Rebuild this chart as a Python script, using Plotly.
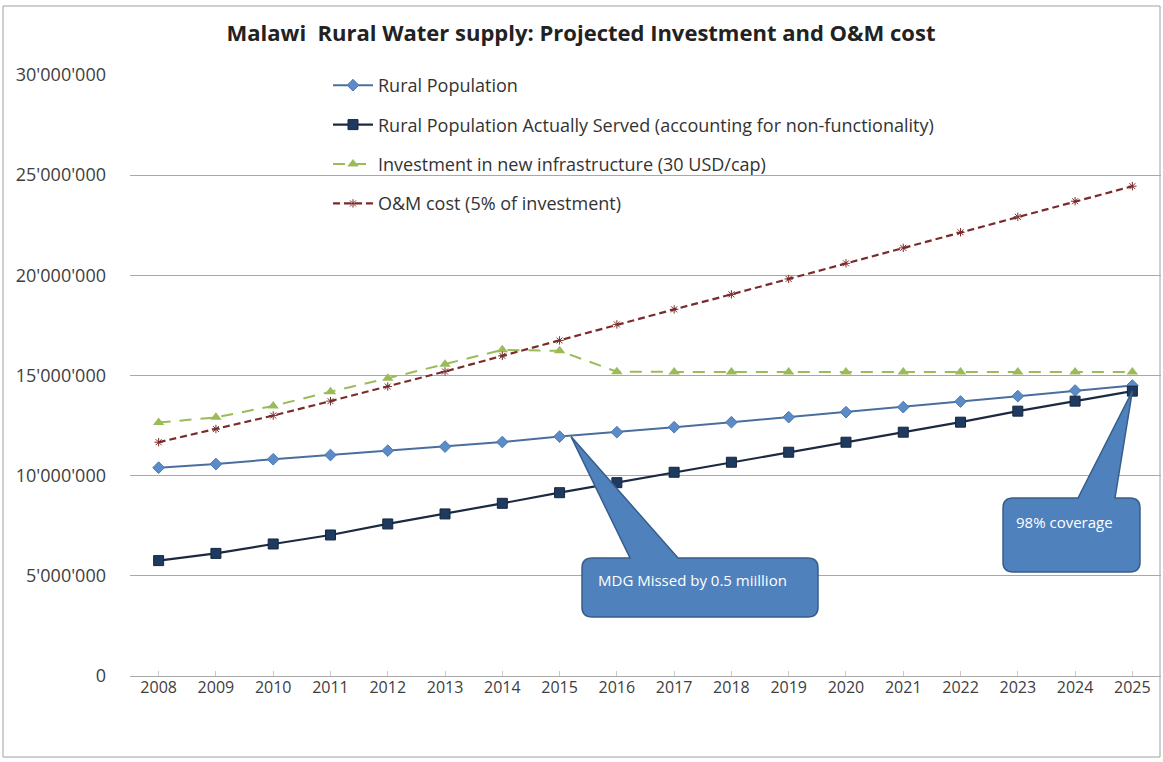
import plotly.graph_objects as go

years = list(range(2008, 2026))
rural_population = [10.40e6, 10.58e6, 10.82e6, 11.03e6, 11.25e6, 11.45e6, 11.68e6, 11.95e6, 12.17e6,
                    12.42e6, 12.67e6, 12.92e6, 13.17e6, 13.42e6, 13.70e6, 13.97e6, 14.25e6, 14.50e6]
served = [5.76e6, 6.12e6, 6.59e6, 7.04e6, 7.59e6, 8.09e6, 8.62e6, 9.15e6, 9.65e6,
          10.17e6, 10.67e6, 11.17e6, 11.67e6, 12.17e6, 12.67e6, 13.22e6, 13.72e6, 14.22e6]
investment = [12.65e6, 12.91e6, 13.48e6, 14.19e6, 14.86e6, 15.56e6, 16.28e6, 16.23e6, 15.19e6,
              15.18e6, 15.18e6, 15.18e6, 15.18e6, 15.18e6, 15.18e6, 15.18e6, 15.18e6, 15.18e6]
om_cost = [11.67e6, 12.33e6, 13.0e6, 13.72e6, 14.45e6, 15.2e6, 15.98e6, 16.75e6, 17.55e6,
           18.3e6, 19.05e6, 19.82e6, 20.6e6, 21.37e6, 22.15e6, 22.92e6, 23.7e6, 24.45e6]
y_ticks = [0, 5e6, 10e6, 15e6, 20e6, 25e6, 30e6]

names = ["Rural Population",
         "Rural Population Actually Served (accounting for non-functionality)",
         "Investment in new infrastructure (30 USD/cap)",
         "O&M cost (5% of investment)"]

W, H = 1163, 762
L, R, T, B = 130, 2, 75, 86
pw, ph = W - L - R, H - T - B
XMIN, XMAX = 2007.5, 2025.5
YMAX = 30e6


def px2x(px):
    return XMIN + (px - L) / pw * (XMAX - XMIN)


def py2y(py):
    return (T + ph - py) / ph * YMAX


fig = go.Figure()
fig.add_trace(go.Scatter(x=years, y=rural_population, name=names[0], legendgroup="a",
                         mode="lines+markers",
                         line=dict(color="#4A6F9E", width=2),
                         marker=dict(symbol="diamond", size=9, color="#5B8CC8",
                                     line=dict(color="#4A7AB5", width=1))))
fig.add_trace(go.Scatter(x=years, y=served, name=names[1], legendgroup="b",
                         mode="lines+markers",
                         line=dict(color="#1B2A41", width=2.2),
                         marker=dict(symbol="square", size=10, color="#1F3A60",
                                     line=dict(color="#15263F", width=1))))
fig.add_trace(go.Scatter(x=years, y=investment, name=names[2], legendgroup="c",
                         mode="lines+markers",
                         line=dict(color="#9BBB59", width=2, dash="12px,9px"),
                         marker=dict(symbol="triangle-up", size=10, color="#9BBB59")))
fig.add_trace(go.Scatter(x=years, y=om_cost, name=names[3], legendgroup="d",
                         mode="lines+markers",
                         line=dict(color="#7A2B2B", width=2.2, dash="7px,4px"),
                         marker=dict(symbol="asterisk-open", size=7,
                                     line=dict(color="#E8A0A0", width=1))))


def callout(bx0, bx1, by0, by1, base_l, base_r, tipx, tipy, r=10):
    rx = r / pw * (XMAX - XMIN)
    ry = r / ph * YMAX
    x0, x1 = px2x(bx0), px2x(bx1)
    ytop, ybot = py2y(by0), py2y(by1)
    bl, br = px2x(base_l), px2x(base_r)
    p = f"M {x0 + rx},{ytop} L {bl},{ytop} L {tipx},{tipy} L {br},{ytop} L {x1 - rx},{ytop} "
    p += f"Q {x1},{ytop} {x1},{ytop - ry} L {x1},{ybot + ry} Q {x1},{ybot} {x1 - rx},{ybot} "
    p += f"L {x0 + rx},{ybot} Q {x0},{ybot} {x0},{ybot + ry} L {x0},{ytop - ry} Q {x0},{ytop} {x0 + rx},{ytop} Z"
    fig.add_shape(type="path", path=p, xref="x", yref="y",
                  fillcolor="#4F81BD", line=dict(color="#385D8A", width=1.5), layer="above")


i2015 = years.index(2015)
callout(582, 818, 558, 617, 630, 678, years[i2015] + 0.2, rural_population[i2015])
callout(1003, 1140, 498, 572, 1078, 1115, years[-1], served[-1])

fig.add_annotation(x=px2x(596), y=py2y(580), text="MDG Missed by 0.5 miillion", showarrow=False,
                   xanchor="left", yanchor="middle", font=dict(family="Open Sans", size=15, color="white"))
fig.add_annotation(x=px2x(1014), y=py2y(522), text="98% coverage", showarrow=False,
                   xanchor="left", yanchor="middle", font=dict(family="Open Sans", size=15, color="white"))

# outer border
fig.add_shape(type="rect", xref="paper", yref="paper",
              x0=(3 - L) / pw, x1=(1160 - L) / pw, y0=(T + ph - 757) / ph, y1=(T + ph - 6) / ph,
              line=dict(color="#A0A0A0", width=1), layer="below")

fig.update_layout(
    width=W, height=H,
    margin=dict(l=L, r=R, t=T, b=B, autoexpand=False),
    paper_bgcolor="white", plot_bgcolor="white",
    separators=".'",
    title=dict(text="<b>Malawi  Rural Water supply: Projected Investment and O&M cost</b>",
               x=(581) / W, xanchor="center", y=1 - 33 / H, yanchor="middle",
               font=dict(family="Open Sans", size=22, color="#222")),
    font=dict(family="Open Sans", color="#404040"),
    showlegend=True,
    legend=dict(x=(328 - L) / pw, y=(T + ph - 67) / ph, xanchor="left", yanchor="top",
                bgcolor="rgba(0,0,0,0)", traceorder="grouped", tracegroupgap=13, itemwidth=40,
                font=dict(family="Open Sans", size=18, color="#333")),
    xaxis=dict(range=[XMIN, XMAX], tickmode="array", tickvals=years, ticktext=[str(y) for y in years],
               showgrid=False, zeroline=False, showline=False,
               ticks="inside", ticklen=5, tickcolor="#C8C8C8",
               tickfont=dict(family="Open Sans", size=16, color="#404040")),
    yaxis=dict(range=[0, YMAX], tickmode="array", tickvals=y_ticks, tickformat=",d",
               showgrid=True, gridcolor="#A8A8A8", gridwidth=1, zeroline=True,
               zerolinecolor="#A8A8A8", zerolinewidth=1,
               ticks="", ticklabelstandoff=23,
               tickfont=dict(family="Open Sans", size=18, color="#404040")),
)

fig.write_html("out.html")
